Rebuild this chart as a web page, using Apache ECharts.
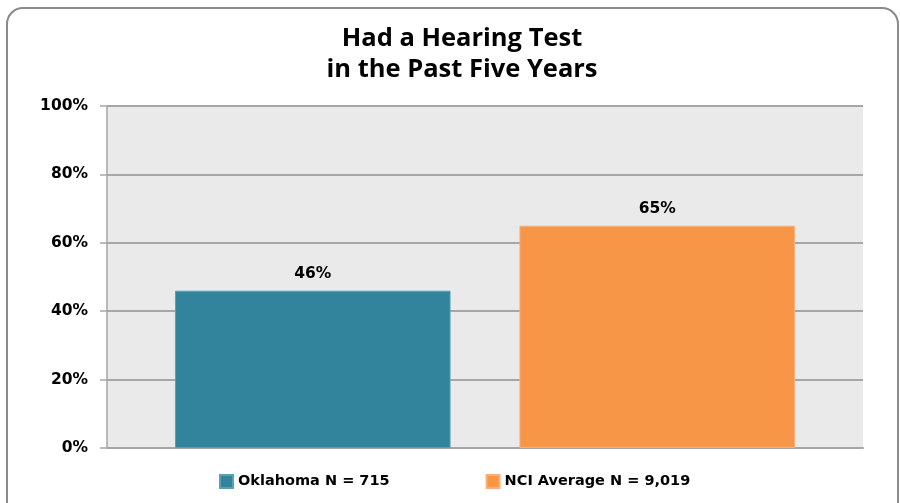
<!DOCTYPE html>
<html>
<head>
<meta charset="utf-8">
<style>
  html, body { margin: 0; padding: 0; background: #ffffff; }
  #chart { width: 900px; height: 503px; }
</style>
<script src="https://cdn.jsdelivr.net/npm/echarts@6/dist/echarts.min.js"></script>
</head>
<body>
<div id="chart"></div>
<script>
// Share who had a hearing test in the past five years
const categories = [''];
const seriesNames = ['Oklahoma N = 715', 'NCI Average N = 9,019'];
const oklahomaValues = [46];
const nciValues = [65];
const yTicks = [0, 20, 40, 60, 80, 100];

const chart = echarts.init(document.getElementById('chart'), null, { renderer: 'canvas' });

const labelFont = 'DejaVu Sans';

function valueLabel() {
  return {
    show: true,
    position: 'top',
    distance: 9,
    formatter: p => p.value + '%',
    fontFamily: labelFont,
    fontWeight: 'bold',
    fontSize: 15.5,
    color: '#000000'
  };
}

chart.setOption({
  backgroundColor: '#ffffff',
  animation: false,
  graphic: [{
    type: 'rect',
    z: -10,
    shape: { x: 7, y: 8, width: 891, height: 520, r: 16 },
    style: { fill: '#ffffff', stroke: '#8a8a8a', lineWidth: 2 }
  }],
  title: {
    text: 'Had a Hearing Test\nin the Past Five Years',
    left: 457,
    textAlign: 'center',
    top: 18,
    textStyle: {
      fontFamily: 'Open Sans',
      fontWeight: 'bold',
      fontSize: 25.5,
      lineHeight: 31,
      color: '#000000'
    }
  },
  legend: {
    bottom: 9,
    left: 214,
    itemWidth: 13,
    itemHeight: 13,
    itemGap: 96,
    icon: 'rect',
    textStyle: {
      fontFamily: labelFont,
      fontWeight: 'bold',
      fontSize: 14.5,
      color: '#000000'
    },
    data: seriesNames
  },
  grid: {
    left: 107,
    right: 37,
    top: 106,
    bottom: 55,
    show: true,
    backgroundColor: '#eaeaea',
    borderWidth: 0
  },
  xAxis: {
    type: 'category',
    data: categories,
    axisLine: { show: true, lineStyle: { color: '#a6a6a6', width: 2 } },
    axisTick: { show: false },
    axisLabel: { show: false }
  },
  yAxis: {
    type: 'value',
    min: yTicks[0],
    max: yTicks[yTicks.length - 1],
    interval: 20,
    axisLine: { show: true, lineStyle: { color: '#a6a6a6', width: 1.5 } },
    axisTick: { show: true, length: 7, lineStyle: { color: '#a6a6a6', width: 1.5 } },
    splitLine: { show: true, lineStyle: { color: '#a6a6a6', width: 2 } },
    axisLabel: {
      margin: 19,
      formatter: v => v + '%',
      fontFamily: labelFont,
      fontWeight: 'bold',
      fontSize: 15.5,
      color: '#000000'
    }
  },
  series: [
    {
      name: seriesNames[0],
      type: 'bar',
      data: oklahomaValues,
      barGap: '25%',
      barCategoryGap: '18%',
      itemStyle: { color: '#31849b', borderColor: '#5aa0b3', borderWidth: 1 },
      label: valueLabel()
    },
    {
      name: seriesNames[1],
      type: 'bar',
      data: nciValues,
      barGap: '25%',
      barCategoryGap: '18%',
      itemStyle: { color: '#f79646', borderColor: '#f9b07a', borderWidth: 1 },
      label: valueLabel()
    }
  ]
});
</script>
</body>
</html>
